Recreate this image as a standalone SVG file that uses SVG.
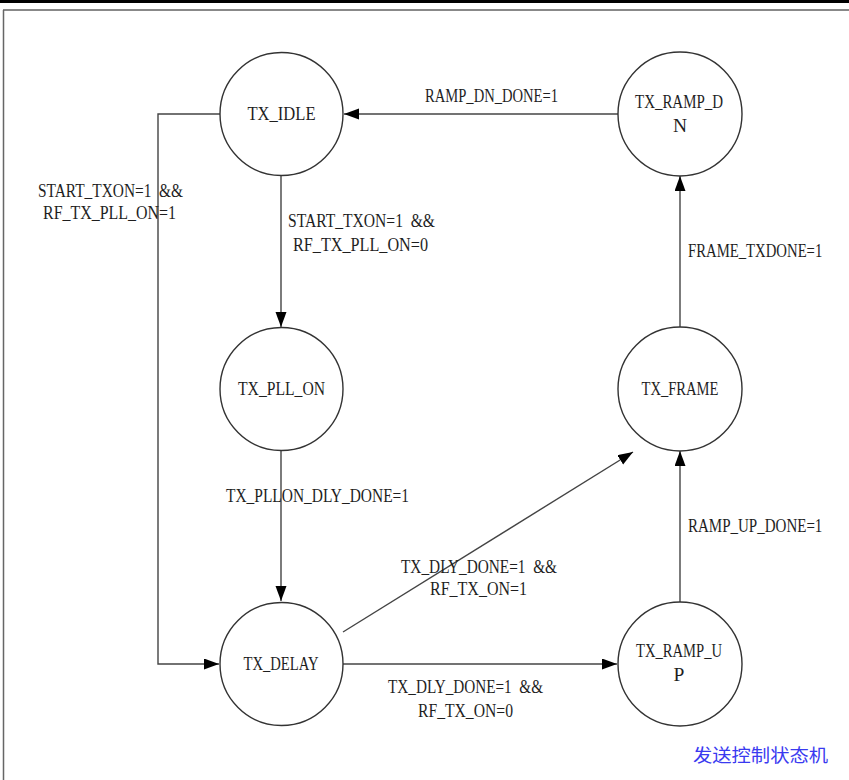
<svg xmlns="http://www.w3.org/2000/svg" width="849" height="780" viewBox="0 0 849 780">
<style>
  .st circle { fill: #ffffff; stroke: #333333; stroke-width: 1.4; }
  .lbl { font-family: "Liberation Serif", "Noto Sans CJK SC", serif; font-size: 19.5px; fill: #1e1e1e; white-space: pre; }
  .nm { text-anchor: middle; }
  .edge { fill: none; stroke: #444444; stroke-width: 1.4; }
  .cn { font-family: "Noto Sans CJK SC", sans-serif; font-size: 18px; fill: #3a3af0; }
</style>
<defs>
  <marker id="arr" markerUnits="userSpaceOnUse" markerWidth="16" markerHeight="12" refX="15" refY="5.5" orient="auto">
    <path d="M0,0 L15,5.5 L0,11 z" fill="#000000"/>
  </marker>
</defs>
<rect x="0" y="0" width="849" height="780" fill="#ffffff"/>
<rect x="0" y="0" width="849" height="3" fill="#000000"/>
<line x1="3" y1="10" x2="849" y2="10" stroke="#888888" stroke-width="2"/>
<line x1="3.5" y1="10" x2="3.5" y2="780" stroke="#666666" stroke-width="1.5"/>

<g id="connectors">
  <line class="edge" x1="618" y1="114" x2="344" y2="114" marker-end="url(#arr)"/>
  <line class="edge" x1="281" y1="175" x2="281" y2="327" marker-end="url(#arr)"/>
  <polyline class="edge" points="220,114 158,114 158,664 219,664" marker-end="url(#arr)"/>
  <line class="edge" x1="281" y1="451" x2="281" y2="601" marker-end="url(#arr)"/>
  <line class="edge" x1="343" y1="632" x2="633" y2="452" marker-end="url(#arr)"/>
  <line class="edge" x1="343" y1="664" x2="617" y2="664" marker-end="url(#arr)"/>
  <line class="edge" x1="680" y1="602" x2="680" y2="451" marker-end="url(#arr)"/>
  <line class="edge" x1="680" y1="327" x2="680" y2="176" marker-end="url(#arr)"/>
  <text class="lbl" x="425" y="102" textLength="133" lengthAdjust="spacingAndGlyphs">RAMP_DN_DONE=1</text>
  <text class="lbl" x="38" y="197" textLength="145" lengthAdjust="spacingAndGlyphs" xml:space="preserve">START_TXON=1  &amp;&amp;</text>
  <text class="lbl" x="43" y="219" textLength="133" lengthAdjust="spacingAndGlyphs">RF_TX_PLL_ON=1</text>
  <text class="lbl" x="288" y="227" textLength="147" lengthAdjust="spacingAndGlyphs" xml:space="preserve">START_TXON=1  &amp;&amp;</text>
  <text class="lbl" x="293" y="251" textLength="135" lengthAdjust="spacingAndGlyphs">RF_TX_PLL_ON=0</text>
  <text class="lbl" x="226" y="502" textLength="183" lengthAdjust="spacingAndGlyphs">TX_PLLON_DLY_DONE=1</text>
  <text class="lbl" x="401" y="573" textLength="156" lengthAdjust="spacingAndGlyphs" xml:space="preserve">TX_DLY_DONE=1  &amp;&amp;</text>
  <text class="lbl" x="430" y="595" textLength="97" lengthAdjust="spacingAndGlyphs">RF_TX_ON=1</text>
  <text class="lbl" x="388" y="693" textLength="155" lengthAdjust="spacingAndGlyphs" xml:space="preserve">TX_DLY_DONE=1  &amp;&amp;</text>
  <text class="lbl" x="418" y="717" textLength="95" lengthAdjust="spacingAndGlyphs">RF_TX_ON=0</text>
  <text class="lbl" transform="translate(688,257) scale(0.756,1)" x="0" y="0">FRAME_TXDONE=1</text>
  <text class="lbl" transform="translate(688,532) scale(0.77,1)" x="0" y="0">RAMP_UP_DONE=1</text>
</g>

<g id="TX_IDLE" class="st">
  <circle cx="281.5" cy="114" r="61.5"/>
  <text class="lbl nm" x="281.5" y="120" textLength="68" lengthAdjust="spacingAndGlyphs">TX_IDLE</text>
</g>
<g id="TX_RAMP_DN" class="st">
  <circle cx="680" cy="114" r="62"/>
  <text class="lbl nm" x="679" y="108" textLength="88" lengthAdjust="spacingAndGlyphs">TX_RAMP_D</text>
  <text class="lbl nm" x="680" y="132">N</text>
</g>
<g id="TX_PLL_ON" class="st">
  <circle cx="281.5" cy="389" r="61.5"/>
  <text class="lbl nm" x="281.5" y="395" textLength="87" lengthAdjust="spacingAndGlyphs">TX_PLL_ON</text>
</g>
<g id="TX_FRAME" class="st">
  <circle cx="680" cy="389" r="62"/>
  <text class="lbl nm" x="680" y="395" textLength="77" lengthAdjust="spacingAndGlyphs">TX_FRAME</text>
</g>
<g id="TX_DELAY" class="st">
  <circle cx="281.5" cy="664" r="61.5"/>
  <text class="lbl nm" x="281" y="670" textLength="75" lengthAdjust="spacingAndGlyphs">TX_DELAY</text>
</g>
<g id="TX_RAMP_UP" class="st">
  <circle cx="680" cy="664" r="62"/>
  <text class="lbl nm" x="679" y="657" textLength="86" lengthAdjust="spacingAndGlyphs">TX_RAMP_U</text>
  <text class="lbl nm" x="679" y="681">P</text>
</g>

<text class="cn" x="693" y="762" textLength="135" lengthAdjust="spacingAndGlyphs">发送控制状态机</text>
</svg>
